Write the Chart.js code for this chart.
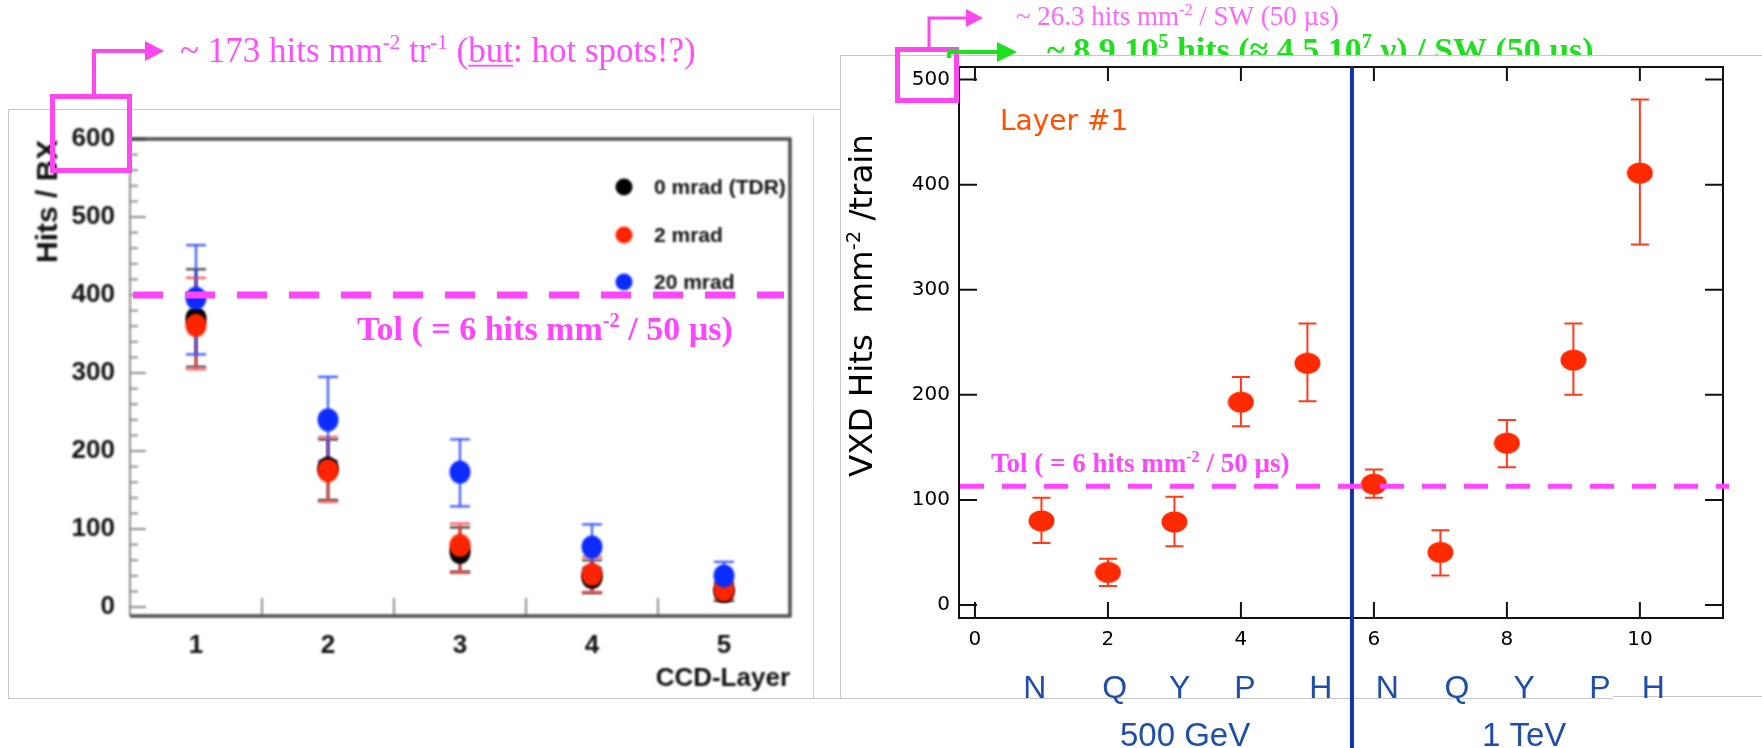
<!DOCTYPE html>
<html>
<head>
<meta charset="utf-8">
<script src="https://cdn.jsdelivr.net/npm/chart.js@4.4.1/dist/chart.umd.min.js"></script>
<style>
  html, body { margin: 0; padding: 0; background: #fff; }
  #wrap { position: relative; width: 1762px; height: 748px; overflow: hidden; }
  #wrap canvas { position: absolute; left: 0; top: 0; }
</style>
</head>
<body>
<div id="wrap">
  <canvas id="ccd" width="1762" height="748"></canvas>
  <canvas id="vxd" width="1762" height="748"></canvas>
</div>
<script>
// hits per bunch crossing vs CCD layer, three crossing angles
const ccdLayers = [1, 2, 3, 4, 5];
const hits0mrad = [370, 178, 70, 38, 20];
const hits0Lo = [308, 137, 45, 18, 8];
const hits0Hi = [433, 215, 102, 60, 30];
const hits2mrad = [361, 175, 79, 42, 22];
const hits2Lo = [305, 135, 44, 19, 10];
const hits2Hi = [422, 218, 107, 64, 32];
const hits20mrad = [396, 240, 173, 77, 40];
const hits20Lo = [324, 187, 129, 50, 23];
const hits20Hi = [464, 295, 215, 106, 58];
const ccdYTicks = [0, 100, 200, 300, 400, 500, 600];
const ccdTolerance = 400;

// layer 1 hits per train for each beam parameter set
const vxdIndex = [1, 2, 3, 4, 5, 6, 7, 8, 9, 10];
const vxdHits = [80, 31, 79, 193, 230, 115, 50, 154, 233, 411];
const vxdLo = [59, 18, 56, 170, 194, 102, 28, 131, 200, 343];
const vxdHi = [102, 44, 103, 217, 268, 129, 71, 176, 268, 481];
const vxdXTicks = [0, 2, 4, 6, 8, 10];
const vxdYTicks = [0, 100, 200, 300, 400, 500];
const vxdTolerance = 113;
const paramSets = ['N', 'Q', 'Y', 'P', 'H', 'N', 'Q', 'Y', 'P', 'H'];
const paramPos = [0.9, 2.1, 3.08, 4.06, 5.2, 6.2, 7.25, 8.26, 9.4, 10.2];
const energies = ['500 GeV', '1 TeV'];
const energyPos = [3.16, 8.26];
const energySplit = 5.67;

const SANS = '"Liberation Sans", Arial, Helvetica, sans-serif';
const SERIF = '"Liberation Serif", "Times New Roman", serif';
const DEJAVU = '"DejaVu Sans", Verdana, sans-serif';
const PINK = '#ff45ff';

function ellipseMarker(w, h, color) {
  const c = document.createElement('canvas');
  c.width = w; c.height = h;
  const g = c.getContext('2d');
  g.fillStyle = color;
  g.beginPath();
  g.ellipse(w / 2, h / 2, w / 2 - 0.5, h / 2 - 0.5, 0, 0, Math.PI * 2);
  g.fill();
  return c;
}

// text with superscripts / underlined runs, returns end x
function richText(ctx, parts, x, y, size, weight) {
  let cx = x;
  parts.forEach(p => {
    const s = p.sup ? size * 0.6 : size;
    ctx.font = `${weight || ''} ${s}px ${p.family || SERIF}`;
    const yy = p.sup ? y - size * 0.38 : y;
    ctx.fillText(p.t, cx, yy);
    const w = ctx.measureText(p.t).width;
    if (p.under) {
      ctx.fillRect(cx, y + size * 0.08, w, Math.max(1.5, size * 0.05));
    }
    cx += w;
  });
  return cx;
}

function richWidth(ctx, parts, size, weight, family) {
  let w = 0;
  parts.forEach(p => {
    ctx.font = `${weight || ''} ${p.sup ? size * 0.6 : size}px ${family}`;
    w += ctx.measureText(p.t).width;
  });
  return w;
}

function arrow(ctx, pts, color, lw, headLen, headHalf) {
  ctx.save();
  ctx.strokeStyle = color;
  ctx.fillStyle = color;
  ctx.lineWidth = lw;
  ctx.beginPath();
  ctx.moveTo(pts[0][0], pts[0][1]);
  for (let i = 1; i < pts.length; i++) ctx.lineTo(pts[i][0], pts[i][1]);
  ctx.stroke();
  const [ex, ey] = pts[pts.length - 1];
  ctx.beginPath();
  ctx.moveTo(ex - 1, ey - headHalf);
  ctx.lineTo(ex + headLen, ey);
  ctx.lineTo(ex - 1, ey + headHalf);
  ctx.closePath();
  ctx.fill();
  ctx.restore();
}

function drawErrorBars(chart, capHalf, lw) {
  const ctx = chart.ctx;
  const xs = chart.scales.x, ys = chart.scales.y;
  ctx.save();
  ctx.lineWidth = lw;
  chart.data.datasets.forEach(ds => {
    ctx.strokeStyle = ds.barColor;
    ds.data.forEach((pt, i) => {
      const px = xs.getPixelForValue(pt.x);
      const yl = ys.getPixelForValue(ds.lo[i]);
      const yh = ys.getPixelForValue(ds.hi[i]);
      ctx.beginPath();
      ctx.moveTo(px, yl); ctx.lineTo(px, yh);
      ctx.moveTo(px - capHalf, yl); ctx.lineTo(px + capHalf, yl);
      ctx.moveTo(px - capHalf, yh); ctx.lineTo(px + capHalf, yh);
      ctx.stroke();
    });
  });
  ctx.restore();
}

const toPoints = (xs, ys) => xs.map((x, i) => ({ x, y: ys[i] }));

/* ---------- left: CCD layers ---------- */
const ccdPlugin = {
  id: 'ccdPlugin',
  beforeDraw(chart) {
    const ctx = chart.ctx;
    // slide panel outlines
    ctx.save();
    ctx.strokeStyle = '#c6c6c6';
    ctx.lineWidth = 1;
    ctx.beginPath();
    ctx.moveTo(8.5, 698.5); ctx.lineTo(8.5, 109.5); ctx.lineTo(841, 109.5);
    ctx.moveTo(8, 698.5); ctx.lineTo(1613, 698.5);
    ctx.moveTo(840.5, 55.5); ctx.lineTo(840.5, 698);
    ctx.moveTo(840, 55.5); ctx.lineTo(1762, 55.5);
    ctx.moveTo(1613, 696.5); ctx.lineTo(1762, 696.5);
    ctx.stroke();
    ctx.strokeStyle = '#ffc4c4';
    ctx.beginPath(); ctx.moveTo(813.5, 115); ctx.lineTo(813.5, 698); ctx.stroke();
    ctx.restore();

    // the ROOT plot itself is a soft bitmap
    ctx.save();
    ctx.filter = 'blur(1px)';
    const { left, right, top, bottom } = chart.chartArea;
    const ys = chart.scales.y, xs = chart.scales.x;

    ctx.strokeStyle = '#8c8c8c';
    ctx.lineWidth = 2;
    for (let v = 0; v <= 600; v += 20) {
      const py = ys.getPixelForValue(v);
      const len = v % 100 === 0 ? 16 : 8;
      ctx.beginPath(); ctx.moveTo(left, py); ctx.lineTo(left + len, py); ctx.stroke();
    }
    for (let i = 0; i < ccdLayers.length - 1; i++) {
      const px = xs.getPixelForValue((ccdLayers[i] + ccdLayers[i + 1]) / 2);
      ctx.beginPath(); ctx.moveTo(px, bottom); ctx.lineTo(px, bottom - 18); ctx.stroke();
    }
    ctx.beginPath(); ctx.moveTo(left, top); ctx.lineTo(left, bottom); ctx.stroke();

    ctx.strokeStyle = '#4d4d4d';
    ctx.lineWidth = 3.5;
    ctx.beginPath();
    ctx.moveTo(left, top); ctx.lineTo(right, top); ctx.lineTo(right, bottom); ctx.lineTo(left, bottom);
    ctx.stroke();

    // axis titles
    ctx.fillStyle = '#111';
    ctx.font = `bold 26px ${SANS}`;
    ctx.textAlign = 'right';
    ctx.textBaseline = 'alphabetic';
    ctx.fillText('CCD-Layer', right, 686);
    ctx.save();
    ctx.translate(57, 263);
    ctx.rotate(-Math.PI / 2);
    ctx.textAlign = 'left';
    ctx.font = `bold 30px ${SANS}`;
    ctx.fillText('Hits / BX', 0, 0);
    ctx.restore();

    // legend
    const legendY = [187, 235, 282];
    ctx.textAlign = 'left';
    ctx.textBaseline = 'middle';
    ctx.font = `bold 21px ${SANS}`;
    chart.data.datasets.forEach((ds, i) => {
      ctx.fillStyle = ds.dotColor;
      ctx.beginPath(); ctx.arc(624, legendY[i], 8.5, 0, Math.PI * 2); ctx.fill();
      ctx.fillStyle = '#111';
      ctx.fillText(ds.label, 654, legendY[i] + 1);
    });
  },
  beforeDatasetsDraw(chart) {
    drawErrorBars(chart, 10, 2.2);
  },
  afterDatasetsDraw(chart) {
    const ctx = chart.ctx;
    ctx.restore();
    const { left, right } = chart.chartArea;
    const ys = chart.scales.y;

    // tolerance line
    const ty = ys.getPixelForValue(ccdTolerance);
    ctx.save();
    ctx.strokeStyle = PINK;
    ctx.lineWidth = 7;
    ctx.setLineDash([30, 22]);
    ctx.beginPath(); ctx.moveTo(left + 3, ty); ctx.lineTo(right - 6, ty); ctx.stroke();
    ctx.setLineDash([]);
    ctx.fillStyle = PINK;
    ctx.textAlign = 'left';
    ctx.textBaseline = 'alphabetic';
    richText(ctx, [{ t: 'Tol ( = 6 hits mm' }, { t: '-2', sup: true }, { t: ' / 50 \u00b5s)' }], 357, 340, 34, 'bold');

    // highlighted top tick and note
    ctx.strokeStyle = '#ff47f0';
    ctx.lineWidth = 5;
    ctx.strokeRect(52.5, 96.5, 77, 74);
    arrow(ctx, [[94, 96], [94, 51], [146, 51]], '#ff47f0', 4, 18, 10);
    ctx.fillStyle = '#ff4dff';
    richText(ctx, [
      { t: '~ 173 hits mm' }, { t: '-2', sup: true }, { t: ' tr' }, { t: '-1', sup: true },
      { t: ' (' }, { t: 'but', under: true }, { t: ': hot spots!?)' }
    ], 180, 62, 35, '');
    ctx.restore();
  }
};

new Chart(document.getElementById('ccd'), {
  type: 'scatter',
  data: {
    datasets: [
      { label: '0 mrad (TDR)', data: toPoints(ccdLayers, hits0mrad), lo: hits0Lo, hi: hits0Hi, order: 3,
        dotColor: '#000', barColor: '#303030', pointStyle: ellipseMarker(22, 24, '#000') },
      { label: '2 mrad', data: toPoints(ccdLayers, hits2mrad), lo: hits2Lo, hi: hits2Hi, order: 2,
        dotColor: '#ff2400', barColor: '#ff5050', pointStyle: ellipseMarker(22, 24, '#ff2400') },
      { label: '20 mrad', data: toPoints(ccdLayers, hits20mrad), lo: hits20Lo, hi: hits20Hi, order: 1,
        dotColor: '#0c2cff', barColor: '#3a55ff', pointStyle: ellipseMarker(22, 24, '#0c2cff') }
    ]
  },
  options: {
    responsive: false,
    animation: false,
    devicePixelRatio: 1,
    layout: { padding: { left: 0, top: 139, right: 1762 - 790, bottom: 0 } },
    plugins: { legend: { display: false }, tooltip: { enabled: false } },
    scales: {
      x: {
        type: 'linear', min: 0.5, max: 5.5,
        afterBuildTicks: s => { s.ticks = ccdLayers.map(v => ({ value: v })); },
        afterFit: s => { s.height = 132; },
        grid: { display: false, drawTicks: false },
        border: { display: false },
        ticks: { color: '#111', padding: 14, font: { family: SANS, size: 26, weight: 'bold' } }
      },
      y: {
        type: 'linear', min: -11.5, max: 600,
        afterBuildTicks: s => { s.ticks = ccdYTicks.map(v => ({ value: v })); },
        afterFit: s => { s.width = 130; },
        grid: { display: false, drawTicks: false },
        border: { display: false },
        ticks: { color: '#111', padding: 15, font: { family: SANS, size: 26, weight: 'bold' } }
      }
    }
  },
  plugins: [ccdPlugin]
});

/* ---------- right: VXD layer 1 ---------- */
const vxdPlugin = {
  id: 'vxdPlugin',
  beforeDatasetsDraw(chart) {
    const ctx = chart.ctx;
    const { left, right, top, bottom } = chart.chartArea;
    const xs = chart.scales.x, ys = chart.scales.y;
    ctx.save();
    ctx.strokeStyle = '#111';
    ctx.lineWidth = 2;
    ctx.strokeRect(left, top, right - left, bottom - top);
    ctx.beginPath();
    vxdYTicks.forEach(v => {
      const py = ys.getPixelForValue(v);
      ctx.moveTo(left, py); ctx.lineTo(left + 18, py);
      ctx.moveTo(right, py); ctx.lineTo(right - 18, py);
    });
    vxdXTicks.forEach(v => {
      const px = xs.getPixelForValue(v);
      ctx.moveTo(px, top); ctx.lineTo(px, top + 14);
      ctx.moveTo(px, bottom); ctx.lineTo(px, bottom - 16);
    });
    ctx.stroke();

    // divider between the two energies
    const sx = xs.getPixelForValue(energySplit);
    ctx.strokeStyle = '#1236a8';
    ctx.lineWidth = 4;
    ctx.beginPath(); ctx.moveTo(sx, top); ctx.lineTo(sx, 748); ctx.stroke();
    ctx.restore();

    drawErrorBars(chart, 9, 2);
  },
  afterDraw(chart) {
    const ctx = chart.ctx;
    const { left, right } = chart.chartArea;
    const xs = chart.scales.x, ys = chart.scales.y;
    ctx.save();

    ctx.fillStyle = '#ff5000';
    ctx.font = `28px ${DEJAVU}`;
    ctx.textAlign = 'left';
    ctx.textBaseline = 'alphabetic';
    ctx.fillText('Layer #1', 1000, 130);

    // tolerance line
    const ty = ys.getPixelForValue(vxdTolerance);
    ctx.strokeStyle = PINK;
    ctx.lineWidth = 5;
    ctx.setLineDash([24, 18]);
    ctx.beginPath(); ctx.moveTo(left + 1, ty); ctx.lineTo(right + 6, ty); ctx.stroke();
    ctx.setLineDash([]);
    ctx.fillStyle = PINK;
    richText(ctx, [{ t: 'Tol ( = 6 hits mm' }, { t: '-2', sup: true }, { t: ' / 50 \u00b5s)' }], 991, 472, 27, 'bold');

    // beam parameter sets and energies
    ctx.fillStyle = '#1f4ea8';
    ctx.textAlign = 'center';
    ctx.font = `32px ${SANS}`;
    paramSets.forEach((p, i) => ctx.fillText(p, xs.getPixelForValue(paramPos[i]), 698));
    ctx.font = `33px ${SANS}`;
    energies.forEach((e, i) => ctx.fillText(e, xs.getPixelForValue(energyPos[i]), 746));

    // y axis title
    const title = [{ t: 'VXD Hits  mm' }, { t: '-2', sup: true }, { t: ' /train' }];
    const size = 32 * 343 / richWidth(ctx, title, 32, '', DEJAVU);
    ctx.save();
    ctx.translate(872, 477);
    ctx.rotate(-Math.PI / 2);
    ctx.textAlign = 'left';
    ctx.fillStyle = '#000';
    title.forEach(p => { p.family = DEJAVU; });
    richText(ctx, title, 0, 0, size, '');
    ctx.restore();

    // highlighted top tick and notes
    ctx.textAlign = 'left';
    ctx.strokeStyle = '#ff47f0';
    ctx.lineWidth = 5;
    ctx.strokeRect(897.5, 49.5, 59, 51);
    arrow(ctx, [[929, 49], [929, 18], [967, 18]], '#ff47f0', 3, 16, 9);
    ctx.fillStyle = '#ff66ff';
    richText(ctx, [{ t: '~ 26.3 hits mm' }, { t: '-2', sup: true }, { t: ' / SW (50 \u00b5s)' }], 1016, 25, 27, '');

    arrow(ctx, [[949, 58], [949, 52], [998, 52]], '#1ee01e', 4, 19, 10);
    ctx.save();
    ctx.beginPath(); ctx.rect(840, 0, 922, 55); ctx.clip();
    ctx.fillStyle = '#1ee01e';
    richText(ctx, [
      { t: '~ 8.9 10' }, { t: '5', sup: true }, { t: ' hits (\u2248 4.5 10' }, { t: '7', sup: true },
      { t: ' \u03b3) / SW (50 \u00b5s)' }
    ], 1047, 61, 34, 'bold');
    ctx.restore();

    ctx.restore();
  }
};

new Chart(document.getElementById('vxd'), {
  type: 'scatter',
  data: {
    datasets: [
      { label: 'Layer #1', data: toPoints(vxdIndex, vxdHits), lo: vxdLo, hi: vxdHi,
        barColor: '#ff3a1a', pointStyle: ellipseMarker(27, 22, '#ff2a00') }
    ]
  },
  options: {
    responsive: false,
    animation: false,
    devicePixelRatio: 1,
    layout: { padding: { left: 0, top: 67, right: 1762 - 1723, bottom: 0 } },
    plugins: { legend: { display: false }, tooltip: { enabled: false } },
    scales: {
      x: {
        type: 'linear', min: -0.24, max: 11.25,
        afterBuildTicks: s => { s.ticks = vxdXTicks.map(v => ({ value: v })); },
        afterFit: s => { s.height = 130; },
        grid: { display: false, drawTicks: false },
        border: { display: false },
        ticks: { color: '#000', padding: 10, font: { family: DEJAVU, size: 20 } }
      },
      y: {
        type: 'linear', min: -12.4, max: 512,
        afterBuildTicks: s => { s.ticks = vxdYTicks.map(v => ({ value: v })); },
        afterFit: s => { s.width = 959; },
        grid: { display: false, drawTicks: false },
        border: { display: false },
        ticks: { color: '#000', padding: 9, font: { family: DEJAVU, size: 20 } }
      }
    }
  },
  plugins: [vxdPlugin]
});
</script>
</body>
</html>
